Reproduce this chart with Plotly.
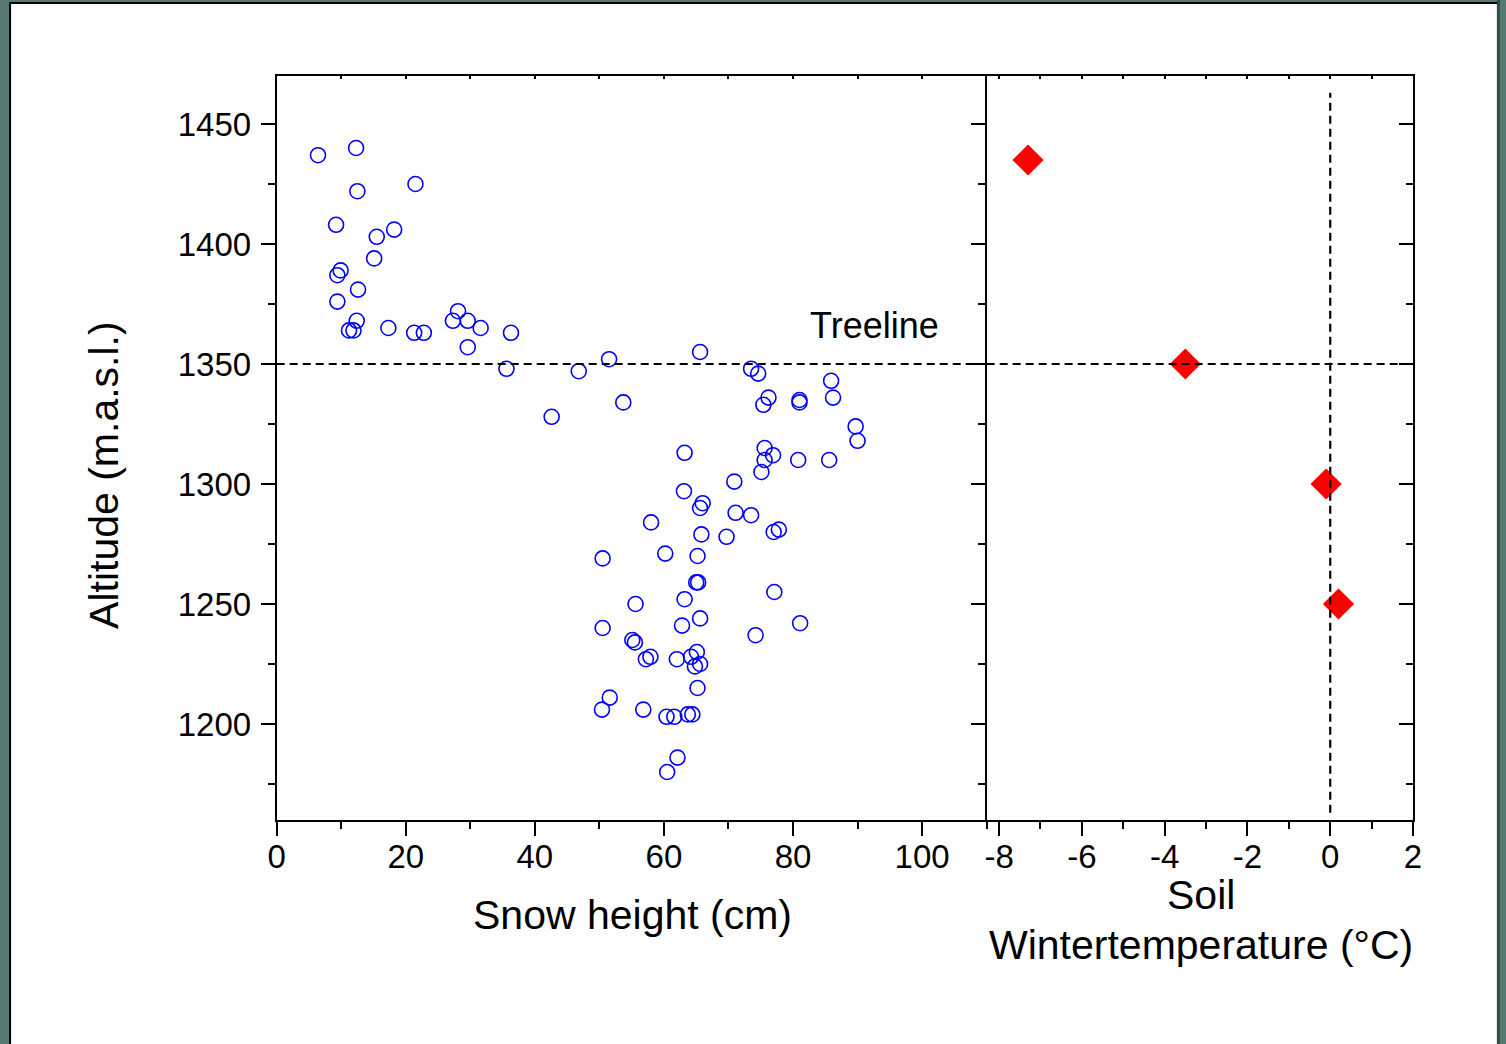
import plotly.graph_objects as go

# ---------------- data ----------------
snow_height_cm = [6.4, 12.3, 12.5, 21.5, 9.2, 18.2, 15.5, 15.1, 9.9, 9.4,
                  12.6, 9.4, 28.1, 27.3, 29.6, 12.4, 31.6, 17.3, 11.2, 11.9,
                  36.3, 21.3, 22.8, 29.6, 65.6, 51.5, 35.6, 46.8, 73.5, 74.6,
                  85.9, 86.2, 76.2, 81.0, 81.0, 75.4, 53.7, 42.6, 89.7, 90.0,
                  75.6, 76.9, 75.6, 80.8, 85.6, 63.2, 75.1, 70.9, 63.1, 66.0,
                  65.6, 71.1, 73.5, 58.0, 77.8, 77.0, 65.8, 69.7, 60.2, 65.2,
                  50.5, 65.0, 65.3, 77.1, 63.2, 55.6, 65.6, 62.8, 50.5, 81.1,
                  74.2, 55.1, 55.5, 65.1, 57.9, 57.2, 62.0, 64.2, 65.6, 64.8,
                  65.2, 51.6, 50.4, 56.8, 60.4, 61.6, 63.7, 64.4, 62.1, 60.5]
snow_altitude = [1437, 1440, 1422, 1425, 1408, 1406, 1403, 1394, 1389, 1387,
                 1381, 1376, 1372, 1368, 1368, 1368, 1365, 1365, 1364, 1364,
                 1363, 1363, 1363, 1357, 1355, 1352, 1348, 1347, 1348, 1346,
                 1343, 1336, 1336, 1335, 1334, 1333, 1334, 1328, 1324, 1318,
                 1315, 1312, 1310, 1310, 1310, 1313, 1305, 1301, 1297, 1292,
                 1290, 1288, 1287, 1284, 1281, 1280, 1279, 1278, 1271, 1270,
                 1269, 1259, 1259, 1255, 1252, 1250, 1244, 1241, 1240, 1242,
                 1237, 1235, 1234, 1230, 1228, 1227, 1227, 1228, 1225, 1224,
                 1215, 1211, 1206, 1206, 1203, 1203, 1204, 1204, 1186, 1180]

soil_temp_c = [-7.3, -3.5, -0.1, 0.2]
soil_altitude = [1435, 1350, 1300, 1250]

treeline_altitude = 1350
zero_temp = 0
zero_line_span = [1163, 1463]

snow_ticks = [0, 20, 40, 60, 80, 100]
alt_ticks = [1200, 1250, 1300, 1350, 1400, 1450]
temp_ticks = [-8, -6, -4, -2, 0, 2]
temp_ticktext = ["-8", "-6", "-4", "-2", "0", "2"]

# ---------------- layout geometry ----------------
W, H = 1506, 1044
FONT = "Liberation Sans, Arial, sans-serif"

# horizontal placement in the rendered page: x_px = 7.9 + 1490.2 * frac
X_OFF, X_SPAN = 7.9, 1490.2


def fx(p):
    return (p - X_OFF) / X_SPAN


def fy(p):
    return 1 - p / H


xd1 = [fx(276), fx(987)]
xd2 = [fx(987), fx(1414)]
yd = [fy(820), fy(76)]

fig = go.Figure()

fig.add_trace(go.Scatter(
    x=snow_height_cm, y=snow_altitude, mode="markers",
    marker=dict(symbol="circle-open", size=15, color="#0000ff",
                line=dict(width=1.6, color="#0000ff")),
    xaxis="x", yaxis="y", showlegend=False, hoverinfo="skip"))

fig.add_trace(go.Scatter(
    x=soil_temp_c, y=soil_altitude, mode="markers",
    marker=dict(symbol="diamond", size=24, color="#ff0000",
                line=dict(width=0)),
    xaxis="x2", yaxis="y2", showlegend=False, hoverinfo="skip"))

# helper traces so overlay axes get drawn
for xa, ya in [("x3", "y"), ("x4", "y2"), ("x2", "y3")]:
    fig.add_trace(go.Scatter(x=[None], y=[None], xaxis=xa, yaxis=ya,
                             showlegend=False, hoverinfo="skip"))

axcommon = dict(showline=True, linewidth=2, linecolor="black",
                showgrid=False, zeroline=False, tickcolor="black",
                tickwidth=2)
TICKFONT = dict(size=33)

fig.update_layout(
    width=W, height=H,
    margin=dict(l=0, r=0, t=0, b=0),
    paper_bgcolor="#587872",
    plot_bgcolor="rgba(0,0,0,0)",
    font=dict(family=FONT, color="black"),
    xaxis=dict(domain=xd1, anchor="y", range=[0, 110],
               tickmode="array", tickvals=snow_ticks,
               ticks="outside", ticklen=14,
               minor=dict(dtick=10, tick0=0, ticks="outside", ticklen=7,
                          tickwidth=2, tickcolor="black"),
               tickfont=TICKFONT, ticklabelstandoff=-8, **axcommon),
    xaxis3=dict(domain=xd1, anchor="y", overlaying="x", side="top",
                matches="x", ticks="inside", ticklen=3, dtick=10, tick0=0,
                showticklabels=False, **axcommon),
    yaxis=dict(domain=yd, anchor="x", range=[1160, 1470],
               tickmode="array", tickvals=alt_ticks,
               ticks="outside", ticklen=14,
               minor=dict(dtick=25, tick0=0, ticks="outside", ticklen=7,
                          tickwidth=2, tickcolor="black"),
               tickfont=TICKFONT, ticklabelstandoff=3, **axcommon),
    xaxis2=dict(domain=xd2, anchor="y2", range=[-8.3, 2],
                tickmode="array", tickvals=temp_ticks, ticktext=temp_ticktext,
                ticks="outside", ticklen=14,
                minor=dict(dtick=1, tick0=0, ticks="outside", ticklen=7,
                           tickwidth=2, tickcolor="black"),
                tickfont=TICKFONT, ticklabelstandoff=-8, **axcommon),
    xaxis4=dict(domain=xd2, anchor="y2", overlaying="x2", side="top",
                matches="x2", ticks="inside", ticklen=3, dtick=1, tick0=0,
                showticklabels=False, **axcommon),
    yaxis2=dict(domain=yd, anchor="x2", matches="y",
                tickmode="array", tickvals=alt_ticks,
                ticks="outside", ticklen=14,
                minor=dict(dtick=25, tick0=0, ticks="outside", ticklen=7,
                           tickwidth=2, tickcolor="black"),
                showticklabels=False, **axcommon),
    yaxis3=dict(domain=yd, anchor="x2", overlaying="y2", side="right",
                matches="y", tickmode="array", tickvals=alt_ticks,
                ticks="inside", ticklen=14,
                minor=dict(dtick=25, tick0=0, ticks="inside", ticklen=7,
                           tickwidth=2, tickcolor="black"),
                showticklabels=False, **axcommon),
)

# white page with black frame
fig.add_shape(type="rect", xref="paper", yref="paper",
              x0=fx(9), x1=fx(1499), y0=fy(1050), y1=fy(3),
              fillcolor="white", line=dict(color="black", width=2),
              layer="below")
# darker strip on the right edge
fig.add_shape(type="rect", xref="paper", yref="paper",
              x0=fx(1501), x1=1.0, y0=0, y1=1,
              fillcolor="#2f4f4a", line=dict(width=0), layer="below")

dash = "8px,5px"
fig.add_shape(type="line", xref="x domain", yref="y",
              x0=0, x1=1, y0=treeline_altitude, y1=treeline_altitude,
              line=dict(color="black", width=2.2, dash=dash))
fig.add_shape(type="line", xref="x2 domain", yref="y2",
              x0=0, x1=1, y0=treeline_altitude, y1=treeline_altitude,
              line=dict(color="black", width=2.2, dash=dash))
fig.add_shape(type="line", xref="x2", yref="y2",
              x0=zero_temp, x1=zero_temp,
              y0=zero_line_span[0], y1=zero_line_span[1],
              line=dict(color="black", width=2.2, dash=dash))

ann = dict(showarrow=False, xanchor="center", yanchor="middle")
fig.add_annotation(text="Treeline", xref="x", yref="y", x=92.7, y=1366,
                   font=dict(size=36), **ann)
fig.add_annotation(text="Altitude (m.a.s.l.)", xref="paper", yref="paper",
                   x=fx(103), y=fy(475), textangle=-90,
                   font=dict(size=41), **ann)
fig.add_annotation(text="Snow height (cm)", xref="paper", yref="paper",
                   x=fx(632), y=fy(915), font=dict(size=41), **ann)
fig.add_annotation(text="Soil", xref="paper", yref="paper",
                   x=fx(1202), y=fy(895), font=dict(size=41), **ann)
fig.add_annotation(text="Wintertemperature (°C)", xref="paper", yref="paper",
                   x=fx(1202), y=fy(945), font=dict(size=41), **ann)

fig.write_html("out.html")
